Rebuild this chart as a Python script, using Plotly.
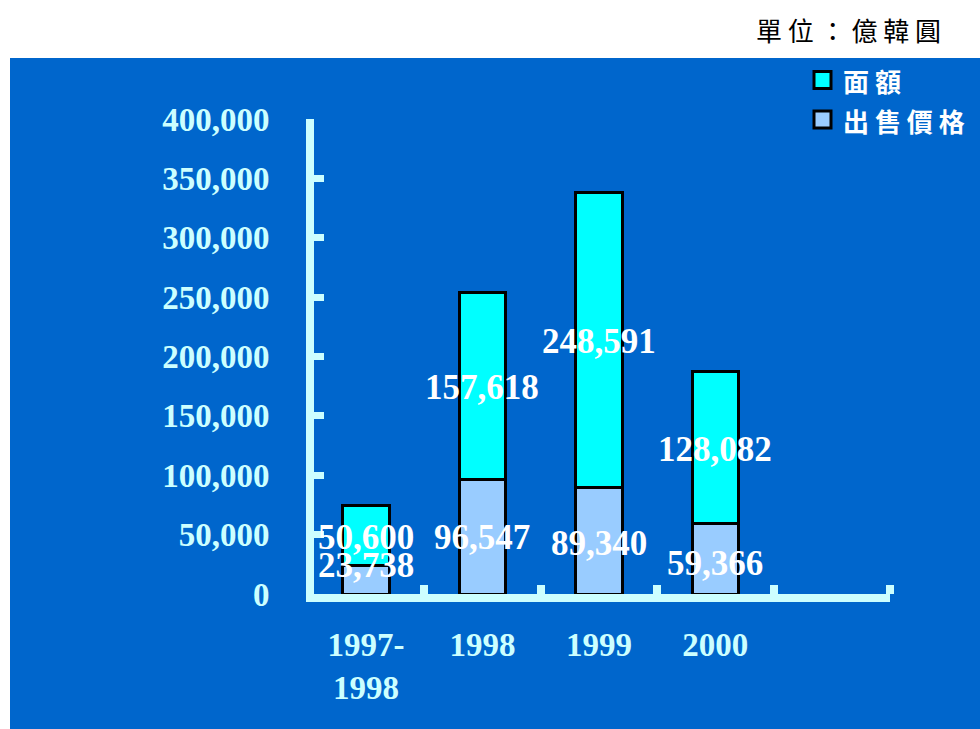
import plotly.graph_objects as go

categories = ["1997-<br>1998", "1998", "1999", "2000"]
sale_price = [23738, 96547, 89340, 59366]      # 出售價格
face_value = [50600, 157618, 248591, 128082]   # 面額
sale_label_y = [23600, 47200, 42900, 26100]
face_label_y = [48000, 174300, 213000, 121300]
y_ticks = [0, 50000, 100000, 150000, 200000, 250000, 300000, 350000, 400000]
legend_names = ["面 額", "出 售 價 格"]
legend_colors = ["#00FFFF", "#99CCFF"]

x_idx = list(range(len(categories)))
AXIS = "#CCFFFF"
SERIF = "Liberation Serif, Times New Roman, serif"
CJK = "Noto Sans CJK TC, Noto Sans CJK SC, sans-serif"

fig = go.Figure()
fig.add_trace(go.Bar(x=x_idx, y=sale_price, name="出售價格", width=0.4, showlegend=False,
                     marker=dict(color=legend_colors[1], line=dict(color="black", width=3))))
fig.add_trace(go.Bar(x=x_idx, y=face_value, name="面額", width=0.4, showlegend=False,
                     marker=dict(color=legend_colors[0], line=dict(color="black", width=3))))

for i in x_idx:
    fig.add_annotation(x=i, y=sale_label_y[i], text=f"{sale_price[i]:,}", showarrow=False,
                       font=dict(family=SERIF, size=35, color="white", weight="bold"))
    fig.add_annotation(x=i, y=face_label_y[i], text=f"{face_value[i]:,}", showarrow=False,
                       font=dict(family=SERIF, size=35, color="white", weight="bold"))

W, H = 980, 729
L, R, T, B = 314, 90, 119, 135
pw, ph = W - L - R, H - T - B
def px_x(p): return (p - L) / pw
def px_y(p): return (H - B - p) / ph

# background panel
fig.add_shape(type="rect", xref="paper", yref="paper", layer="below",
              x0=px_x(10), x1=px_x(980), y0=px_y(729), y1=px_y(58),
              fillcolor="#0066CC", line=dict(width=0))

# unit label
fig.add_annotation(xref="paper", yref="paper", x=px_x(848), y=px_y(29),
                   xanchor="center", yanchor="middle",
                   text="單 位 ： 億 韓 圓", showarrow=False,
                   font=dict(family=CJK, size=26, color="black"))

# legend
for k, (name, col) in enumerate(zip(legend_names, legend_colors)):
    cy = 80 + 39.5 * k
    fig.add_shape(type="rect", xref="paper", yref="paper",
                  x0=px_x(814), x1=px_x(831), y0=px_y(cy + 8.5), y1=px_y(cy - 8.5),
                  fillcolor=col, line=dict(color="black", width=3))
    fig.add_annotation(xref="paper", yref="paper", x=px_x(841), y=px_y(cy + 1),
                       xanchor="left", yanchor="middle", text=name, showarrow=False,
                       font=dict(family=CJK, size=26, color="white", weight="bold"))

fig.update_layout(
    width=W, height=H, barmode="stack",
    margin=dict(l=L, r=R, t=T, b=B, autoexpand=False),
    paper_bgcolor="white", plot_bgcolor="rgba(0,0,0,0)",
    showlegend=False,
    xaxis=dict(range=[-0.447, 4.5], tickmode="array", tickvals=x_idx, ticktext=categories,
               automargin=False,
               showgrid=False, zeroline=False, showline=True, linecolor=AXIS, linewidth=8,
               ticks="", ticklabelstandoff=14,
               tickfont=dict(family=SERIF, size=33, color=AXIS, weight="bold"),
               minor=dict(ticks="inside", tickmode="array", tickvals=[0.5, 1.5, 2.5, 3.5, 4.5],
                          ticklen=9, tickwidth=8, tickcolor=AXIS, showgrid=False)),
    yaxis=dict(range=[0, 400000], tickmode="array", tickvals=y_ticks,
               ticktext=[f"{v:,}" for v in y_ticks], automargin=False,
               showgrid=False, zeroline=False, showline=True, linecolor=AXIS, linewidth=8,
               ticks="inside", ticklen=10, tickwidth=7, tickcolor=AXIS, ticklabelstandoff=30,
               tickfont=dict(family=SERIF, size=33, color=AXIS, weight="bold")),
)

fig.write_html("out.html")
